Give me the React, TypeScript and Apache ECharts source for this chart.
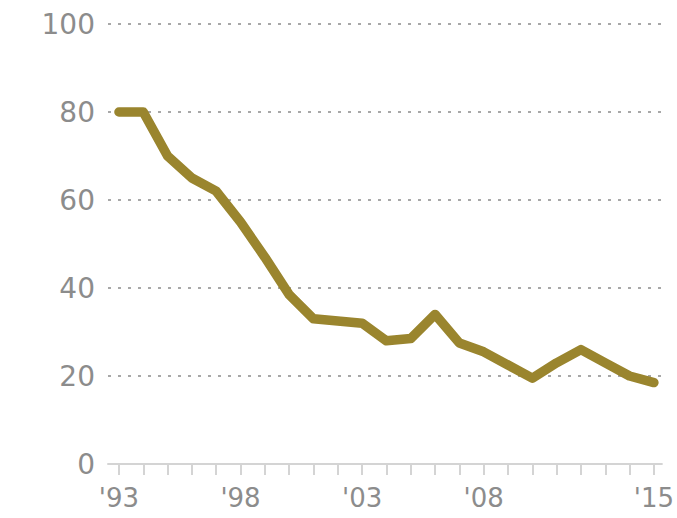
import React, { useEffect, useRef } from "react";
import * as echarts from "echarts";

const years = [1993, 1994, 1995, 1996, 1997, 1998, 1999, 2000, 2001, 2002, 2003, 2004, 2005, 2006, 2007, 2008, 2009, 2010, 2011, 2012, 2013, 2014, 2015];
const values = [80, 80, 70, 65, 62, 55, 47, 38.5, 33, 32.5, 32, 28, 28.5, 34, 27.5, 25.5, 22.5, 19.5, 23, 26, 23, 20, 18.5];
const labelYears = [1993, 1998, 2003, 2008, 2015];
const yTicks = [0, 20, 40, 60, 80, 100];

export default function App() {
  const ref = useRef<HTMLDivElement>(null);
  useEffect(() => {
    if (!ref.current) return;
    const chart = echarts.init(ref.current, null, { renderer: "svg" });
    const font = "DejaVu Sans";
    chart.setOption({
      animation: false,
      backgroundColor: "#ffffff",
      grid: { left: 108, right: 15, top: 24, bottom: 54, containLabel: false },
      xAxis: {
        type: "value",
        min: 1992.55,
        max: 2015.33,
        splitLine: { show: false },
        axisLine: { show: true, lineStyle: { color: "#d4d4d4", width: 2 } },
        axisTick: {
          show: true,
          customValues: years,
          length: 11,
          lineStyle: { color: "#d4d4d4", width: 2 },
        },
        axisLabel: {
          customValues: labelYears,
          margin: 20,
          color: "#8c8c8c",
          fontFamily: font,
          fontSize: 26,
          lineHeight: 28,
          formatter: (v: number) => "'" + String(Math.round(v)).slice(2),
        },
      },
      yAxis: {
        type: "value",
        min: 0,
        max: 100,
        interval: 20,
        axisLine: { show: false },
        axisTick: { show: false },
        axisLabel: {
          margin: 13,
          color: "#8c8c8c",
          fontFamily: font,
          fontSize: 28,
          customValues: yTicks,
        },
        splitLine: {
          show: true,
          lineStyle: { color: "#a8a8a8", width: 2, type: [3, 7] },
        },
      },
      series: [
        {
          type: "line",
          data: years.map((y, i) => [y, values[i]]),
          symbol: "none",
          lineStyle: { color: "#9a852e", width: 9.5, cap: "round", join: "round" },
        },
      ],
    });
    return () => chart.dispose();
  }, []);
  return <div ref={ref} style={{ width: 677, height: 518, position: "absolute", left: 0, top: 0 }} />;
}
